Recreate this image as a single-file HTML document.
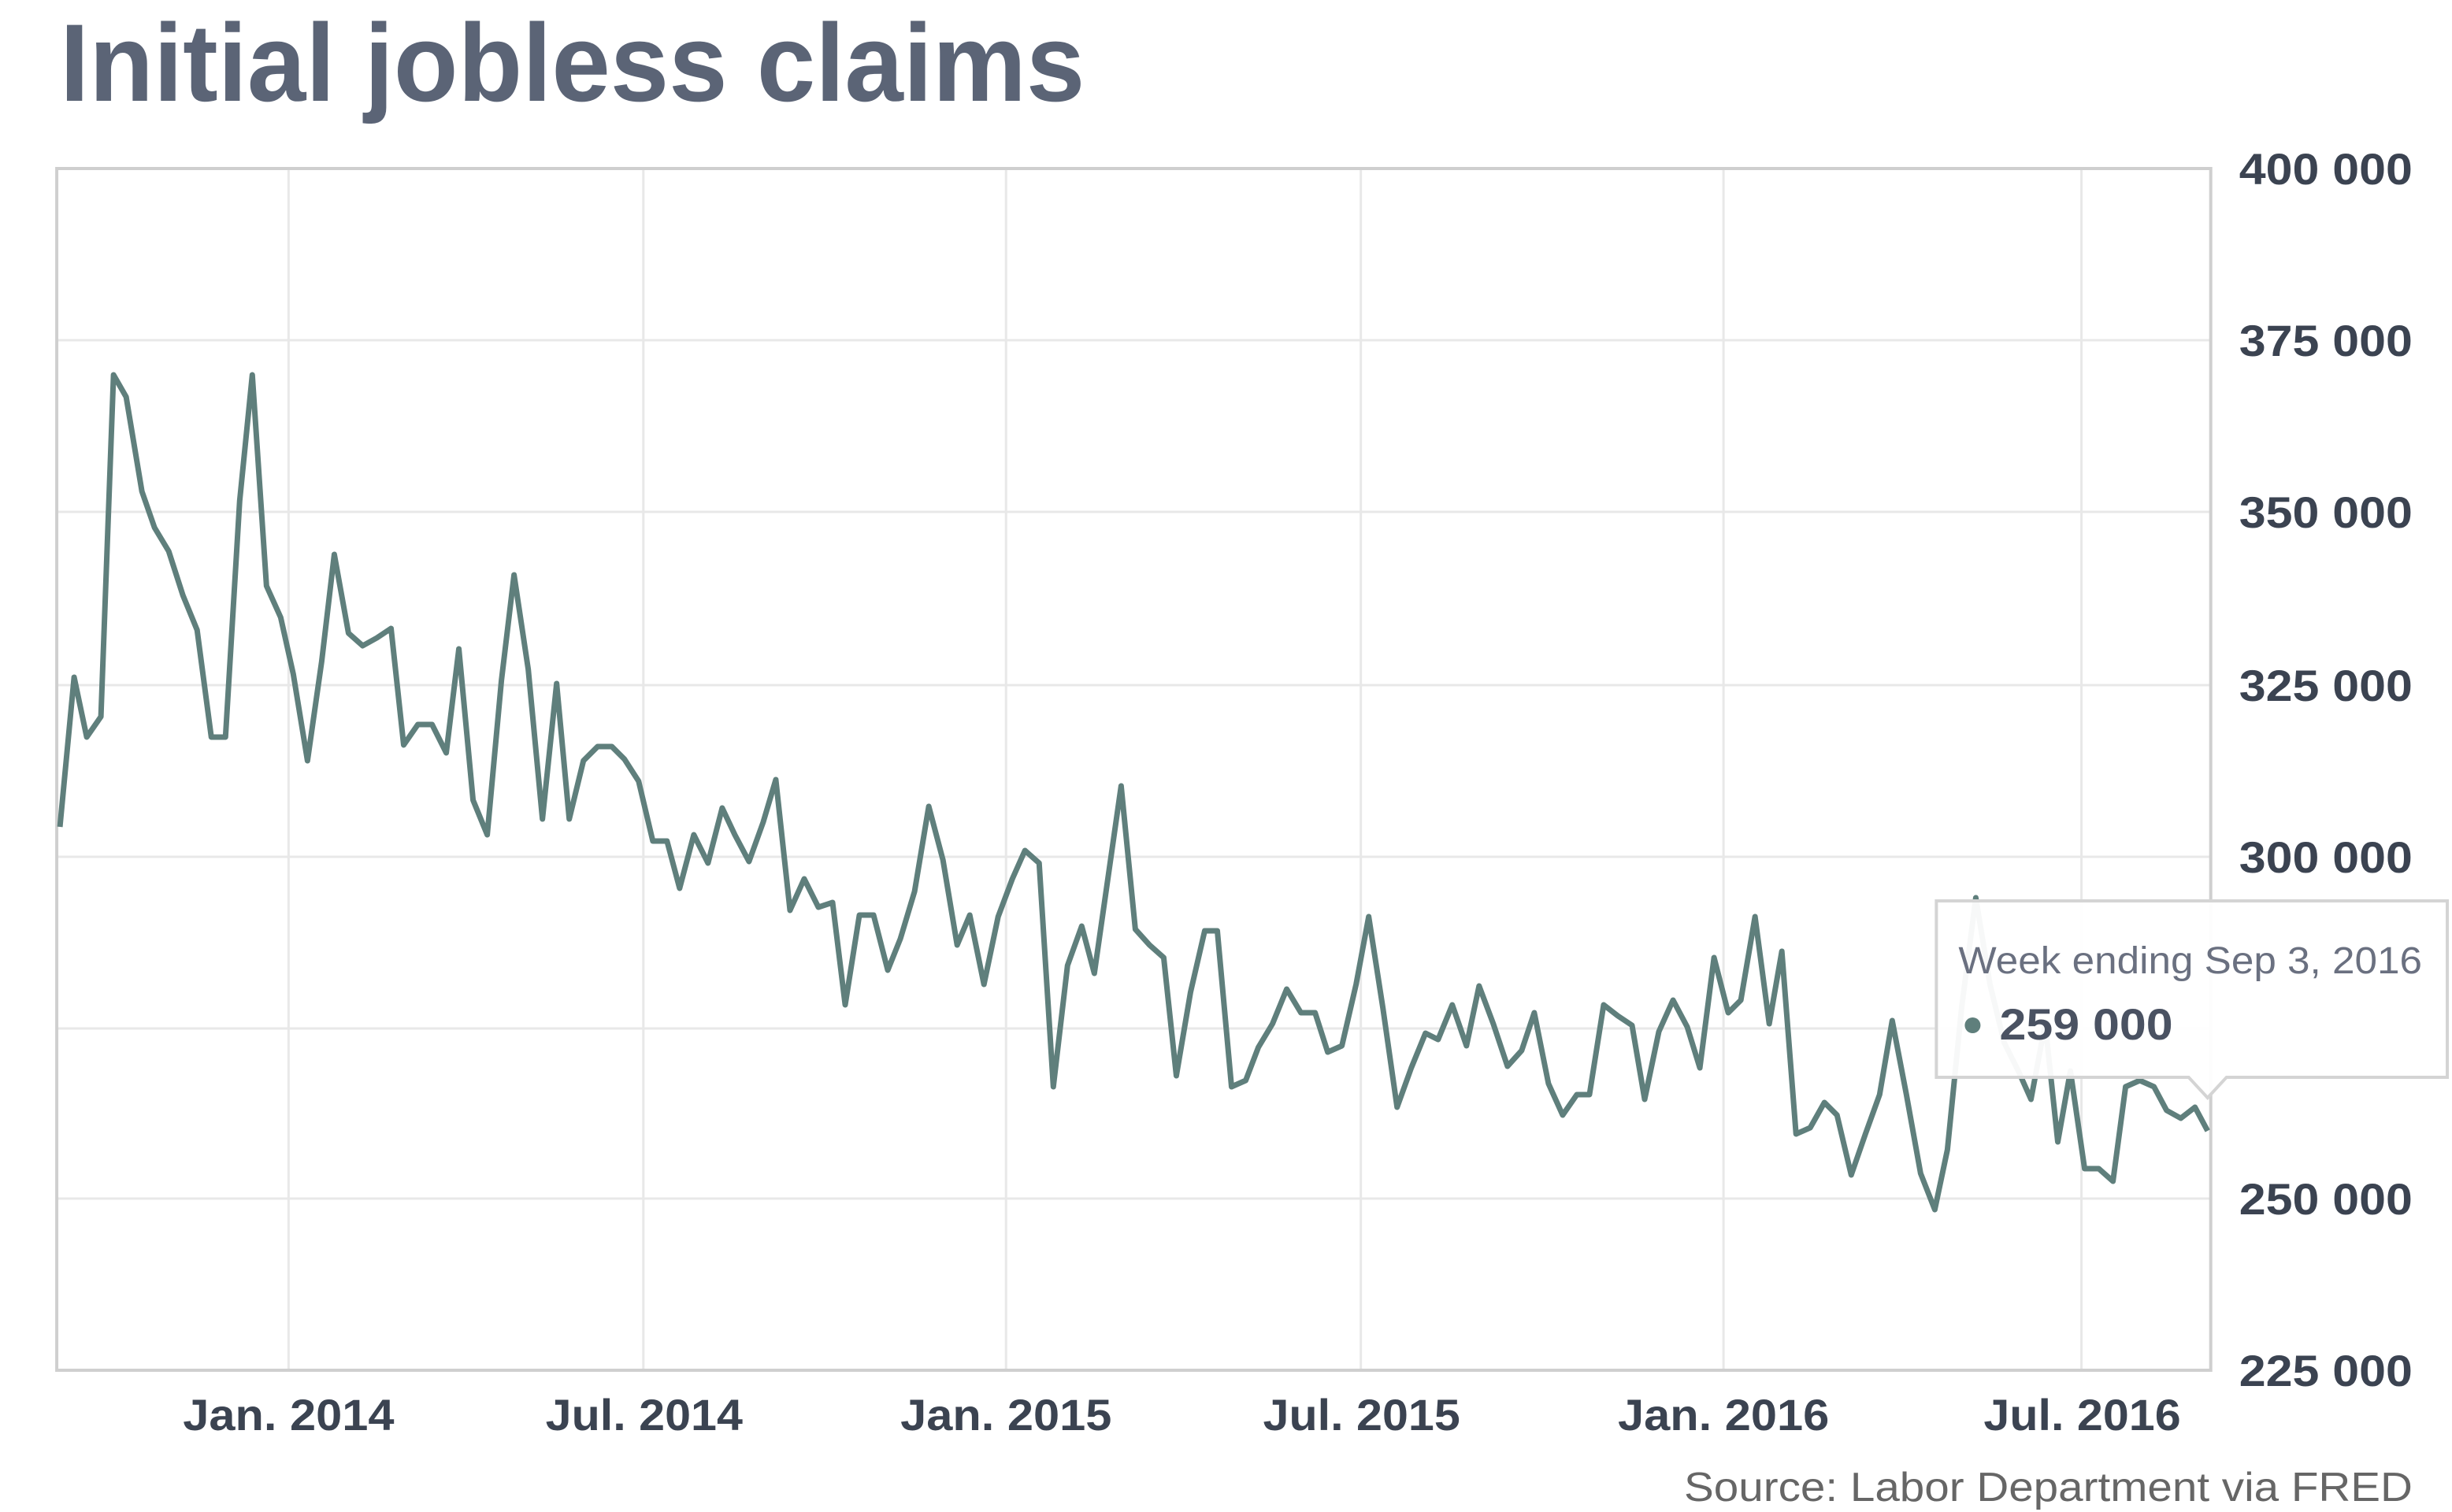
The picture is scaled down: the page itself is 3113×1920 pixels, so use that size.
<!DOCTYPE html>
<html><head><meta charset="utf-8"><style>
html,body{margin:0;padding:0;background:#fff;}
svg{display:block;}
</style></head><body>
<svg width="3113" height="1920" viewBox="0 0 1555 960" preserveAspectRatio="none" xmlns="http://www.w3.org/2000/svg">
<rect x="0" y="0" width="1555" height="960" fill="#fff"/>
<text x="38" y="64" font-family="Liberation Sans, sans-serif" font-weight="bold" font-size="70" fill="#5b6476" textLength="650" lengthAdjust="spacingAndGlyphs">Initial jobless claims</text>
<g stroke="#e8e8e8" stroke-width="1.5">
<line x1="36" y1="216" x2="1402" y2="216"/><line x1="36" y1="325" x2="1402" y2="325"/>
<line x1="36" y1="435" x2="1402" y2="435"/><line x1="36" y1="544" x2="1402" y2="544"/>
<line x1="36" y1="653" x2="1402" y2="653"/><line x1="36" y1="761" x2="1402" y2="761"/>
<line x1="183" y1="107" x2="183" y2="870"/><line x1="408" y1="107" x2="408" y2="870"/>
<line x1="638" y1="107" x2="638" y2="870"/><line x1="863" y1="107" x2="863" y2="870"/>
<line x1="1093" y1="107" x2="1093" y2="870"/><line x1="1320" y1="107" x2="1320" y2="870"/>
</g>
<rect x="36" y="107" width="1366" height="763" fill="none" stroke="#cfcfcf" stroke-width="2"/>
<polyline fill="none" stroke="#5f7f7c" stroke-width="3.5" stroke-linejoin="round" points="38,525 47,430 55,468 64,455 72,238 80,252 90,312 98,335 107,350 116,378 125,400 134,468 143,468 152,318 160,238 169,372 178,392 186,428 195,483 204,420 212,352 221,402 230,410 239,405 248,399 256,473 265,460 274,460 283,478 291,412 300,508 309,530 318,432 326,365 335,425 344,520 353,434 361,520 370,483 379,474 388,474 396,482 405,496 414,534 423,534 431,564 440,530 449,548 458,513 466,530 475,547 484,522 492,495 501,578 510,558 519,576 528,573 536,638 545,581 554,581 563,616 571,596 580,566 589,512 598,546 607,600 615,581 624,625 633,582 642,558 650,540 659,548 668,690 677,613 686,588 694,618 703,555 711,499 720,590 729,600 738,608 746,683 755,630 764,591 772,591 781,690 790,686 798,665 807,650 816,628 825,643 834,643 842,668 851,664 860,625 868,582 877,640 886,703 895,678 904,656 912,660 921,638 930,664 938,626 947,650 956,677 965,667 973,643 982,688 991,708 1000,695 1008,695 1017,638 1026,645 1035,651 1043,698 1052,655 1061,635 1070,652 1078,678 1087,608 1096,643 1104,635 1113,582 1122,650 1130,604 1139,720 1148,716 1157,700 1165,708 1174,746 1183,720 1192,695 1200,648 1209,695 1218,745 1227,768 1235,730 1244,640 1253,570 1262,625 1271,662 1280,680 1288,698 1297,650 1305,725 1313,680 1322,742 1331,742 1340,750 1348,690 1357,686 1366,690 1374,705 1383,710 1392,703 1400,718"/>
<g font-family="Liberation Sans, sans-serif" font-weight="bold" font-size="28" fill="#3b4351">
<text x="1420" y="117" textLength="110" lengthAdjust="spacingAndGlyphs">400 000</text>
<text x="1420" y="226" textLength="110" lengthAdjust="spacingAndGlyphs">375 000</text>
<text x="1420" y="335" textLength="110" lengthAdjust="spacingAndGlyphs">350 000</text>
<text x="1420" y="445" textLength="110" lengthAdjust="spacingAndGlyphs">325 000</text>
<text x="1420" y="554" textLength="110" lengthAdjust="spacingAndGlyphs">300 000</text>
<text x="1420" y="771" textLength="110" lengthAdjust="spacingAndGlyphs">250 000</text>
<text x="1420" y="880" textLength="110" lengthAdjust="spacingAndGlyphs">225 000</text>
<text x="116" y="908" textLength="134" lengthAdjust="spacingAndGlyphs">Jan. 2014</text>
<text x="346" y="908" textLength="125" lengthAdjust="spacingAndGlyphs">Jul. 2014</text>
<text x="571" y="908" textLength="134" lengthAdjust="spacingAndGlyphs">Jan. 2015</text>
<text x="801" y="908" textLength="125" lengthAdjust="spacingAndGlyphs">Jul. 2015</text>
<text x="1026" y="908" textLength="134" lengthAdjust="spacingAndGlyphs">Jan. 2016</text>
<text x="1258" y="908" textLength="125" lengthAdjust="spacingAndGlyphs">Jul. 2016</text>
</g>
<text x="1068" y="953" font-family="Liberation Sans, sans-serif" font-size="26" fill="#666" textLength="462" lengthAdjust="spacingAndGlyphs">Source: Labor Department via FRED</text>
<path d="M1228,572 H1552 V684 H1412 L1400,697 L1388,684 H1228 Z" fill="#fff" fill-opacity="0.95" stroke="#d4d4d4" stroke-width="2"/>
<text x="1242" y="618" font-family="Liberation Sans, sans-serif" font-size="24" fill="#6a7080" textLength="294" lengthAdjust="spacingAndGlyphs">Week ending Sep 3, 2016</text>
<circle cx="1251" cy="651" r="5" fill="#5f7f7c"/>
<text x="1268" y="660" font-family="Liberation Sans, sans-serif" font-weight="bold" font-size="28" fill="#4a5262" textLength="110" lengthAdjust="spacingAndGlyphs">259 000</text>
</svg>
</body></html>
